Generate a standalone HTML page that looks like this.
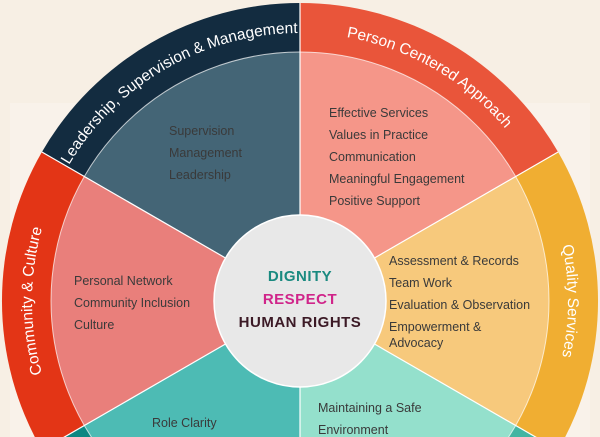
<!DOCTYPE html>
<html><head><meta charset="utf-8"><style>
html,body{margin:0;padding:0;background:#f7efe4;width:600px;height:437px;overflow:hidden;}
svg{display:block;font-family:"Liberation Sans",sans-serif;}
.l{font-size:12.5px;fill:#3a3a3a;}
.r{font-size:15.5px;fill:#fff;}
</style></head><body>
<svg width="600" height="437" viewBox="0 0 600 437">
<rect x="0" y="0" width="600" height="437" fill="#f7efe4"/>
<rect x="10" y="103" width="580" height="334" fill="#f9f2ea"/>
<path d="M300,301 L41.9,152 A298,298 0 0 1 300,3 Z" fill="#132c40"/>
<path d="M300,301 L300,3 A298,298 0 0 1 558.1,152 Z" fill="#e9553a"/>
<path d="M300,301 L558.1,152 A298,298 0 0 1 558.1,450 Z" fill="#f0ae32"/>
<path d="M300,301 L558.1,450 A298,298 0 0 1 300,599 Z" fill="#43b5a2"/>
<path d="M300,301 L300,599 A298,298 0 0 1 41.9,450 Z" fill="#0c8782"/>
<path d="M300,301 L41.9,450 A298,298 0 0 1 41.9,152 Z" fill="#e33516"/>
<path d="M300,301 L84.4,176.5 A249,249 0 0 1 300,52 Z" fill="#446576"/>
<path d="M300,301 L300,52 A249,249 0 0 1 515.6,176.5 Z" fill="#f59689"/>
<path d="M300,301 L515.6,176.5 A249,249 0 0 1 515.6,425.5 Z" fill="#f7c97c"/>
<path d="M300,301 L515.6,425.5 A249,249 0 0 1 300,550 Z" fill="#94e0cc"/>
<path d="M300,301 L300,550 A249,249 0 0 1 84.4,425.5 Z" fill="#4dbbb4"/>
<path d="M300,301 L84.4,425.5 A249,249 0 0 1 84.4,176.5 Z" fill="#e97f7b"/>
<circle cx="300" cy="301" r="249" fill="none" stroke="#fff" stroke-opacity="0.7" stroke-width="1"/>
<g stroke="#fff" stroke-width="1.2">
<line x1="300" y1="301" x2="41.9" y2="152"/>
<line x1="300" y1="301" x2="300" y2="3"/>
<line x1="300" y1="301" x2="558.1" y2="152"/>
<line x1="300" y1="301" x2="558.1" y2="450"/>
<line x1="300" y1="301" x2="300" y2="599"/>
<line x1="300" y1="301" x2="41.9" y2="450"/>
</g>
<circle cx="300" cy="301" r="86" fill="#e8e8e8" stroke="#fff" stroke-width="1.5"/>
<defs>
<path id="a1" d="M41.1,231.6 A268,268 0 0 1 369.4,42.1"/>
<path id="a2" d="M230.6,42.1 A268,268 0 0 1 558.9,231.6"/>
<path id="a3" d="M489.5,111.5 A268,268 0 0 1 489.5,490.5"/>
<path id="a4" d="M110.5,490.5 A268,268 0 0 1 110.5,111.5"/>
</defs>
<text class="r"><textPath href="#a1" startOffset="50%" text-anchor="middle">Leadership, Supervision &amp; Management</textPath></text>
<text class="r"><textPath href="#a2" startOffset="50%" text-anchor="middle">Person Centered Approach</textPath></text>
<text class="r"><textPath href="#a3" startOffset="50%" text-anchor="middle">Quality Services</textPath></text>
<text class="r"><textPath href="#a4" startOffset="50%" text-anchor="middle">Community &amp; Culture</textPath></text>
<g class="l">
<text x="169" y="135" class="l">Supervision</text>
<text x="169" y="157" class="l">Management</text>
<text x="169" y="179" class="l">Leadership</text>
<text x="329" y="117" class="l">Effective Services</text>
<text x="329" y="139" class="l">Values in Practice</text>
<text x="329" y="161" class="l">Communication</text>
<text x="329" y="183" class="l">Meaningful Engagement</text>
<text x="329" y="205" class="l">Positive Support</text>
<text x="389" y="265" class="l">Assessment &amp; Records</text>
<text x="389" y="287" class="l">Team Work</text>
<text x="389" y="309" class="l">Evaluation &amp; Observation</text>
<text x="389" y="331" class="l">Empowerment &amp;</text>
<text x="389" y="347" class="l">Advocacy</text>
<text x="74" y="285" class="l">Personal Network</text>
<text x="74" y="307" class="l">Community Inclusion</text>
<text x="74" y="329" class="l">Culture</text>
<text x="152" y="427" class="l">Role Clarity</text>
<text x="318" y="412" class="l">Maintaining a Safe</text>
<text x="318" y="434" class="l">Environment</text>
</g>
<g font-weight="bold" font-size="15" text-anchor="middle" letter-spacing="0.5">
<text x="300" y="281" fill="#1a8a80">DIGNITY</text>
<text x="300" y="304" fill="#d0258a">RESPECT</text>
<text x="300" y="327" fill="#3c1a26">HUMAN RIGHTS</text>
</g>
</svg>
</body></html>
